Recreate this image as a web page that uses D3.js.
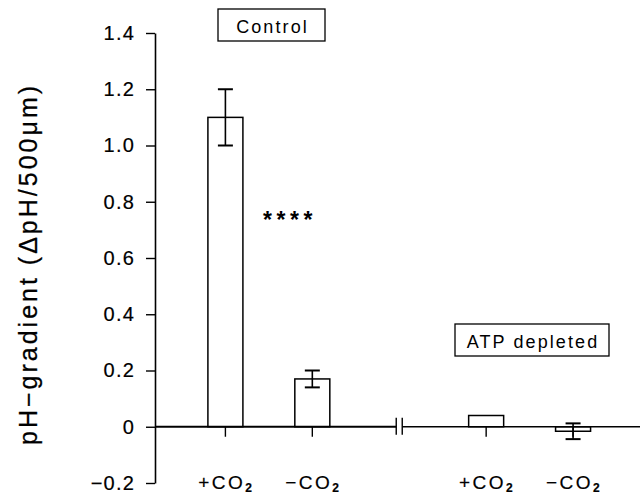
<!DOCTYPE html>
<html>
<head>
<meta charset="utf-8">
<script src="https://cdn.jsdelivr.net/npm/d3@7"></script>
<style>
  html, body { margin: 0; padding: 0; background: #fff; }
  svg { display: block; font-family: "Liberation Sans", Arial, sans-serif; }
</style>
</head>
<body>
<div id="chart"></div>
<script>
// Values (pH units per 500 µm)
const groups = ['Control', 'Control', 'ATP depleted', 'ATP depleted'];
const conditions = ['+CO', '−CO', '+CO', '−CO'];
const positions = [1, 2, 4, 5];        // slot 3 holds the axis break
const means = [1.10, 0.17, 0.04, -0.016];
const errors = [0.10, 0.03, 0, 0.028];
const yTicks = [-0.2, 0, 0.2, 0.4, 0.6, 0.8, 1.0, 1.2, 1.4];

const width = 640, height = 497;

const svg = d3.select('#chart').append('svg')
  .attr('width', width)
  .attr('height', height);

const x = d3.scaleLinear().domain([0.19, 5.77]).range([155, 640]);
const y = d3.scaleLinear().domain([-0.2, 1.4]).range([483, 33]);
const barW = 35, capW = 15;

// y axis
const yAxis = d3.axisLeft(y)
  .tickValues(yTicks)
  .tickSize(9)
  .tickSizeOuter(0)
  .tickPadding(11)
  .tickFormat(d => d === 0 ? '0' : d3.format('.1f')(d).replace('-', '−'));

const yg = svg.append('g')
  .attr('transform', `translate(${x.range()[0]},0)`)
  .call(yAxis);
yg.select('.domain').attr('stroke', '#000').attr('stroke-width', 1.6);
yg.selectAll('.tick line').attr('stroke', '#000').attr('stroke-width', 1.4);
yg.selectAll('.tick text')
  .attr('fill', '#000')
  .attr('font-size', 20)
  .attr('letter-spacing', 1.2)
  .attr('stroke', '#000')
  .attr('stroke-width', 0.2)
  .attr('font-family', '"Liberation Sans", Arial, sans-serif');

svg.append('text')
  .attr('transform', `translate(37,264) rotate(-90)`)
  .attr('text-anchor', 'middle')
  .attr('font-size', 25)
  .attr('letter-spacing', 3)
  .attr('stroke', '#000')
  .attr('stroke-width', 0.25)
  .text('pH−gradient (ΔpH/500μm)');

// bars
const bars = svg.append('g');
positions.forEach((p, i) => {
  const v = means[i];
  bars.append('rect')
    .attr('x', x(p) - barW / 2)
    .attr('y', y(Math.max(0, v)))
    .attr('width', barW)
    .attr('height', Math.abs(y(v) - y(0)))
    .attr('fill', '#fff')
    .attr('stroke', '#000')
    .attr('stroke-width', 1.5);
});

// x ticks (below zero line)
svg.append('g').selectAll('line')
  .data(positions)
  .join('line')
  .attr('x1', d => x(d)).attr('x2', d => x(d))
  .attr('y1', y(0)).attr('y2', y(0) + 10)
  .attr('stroke', '#000')
  .attr('stroke-width', 1.4);

// zero line with break
const brk = x(3);
svg.append('line')
  .attr('x1', x.range()[0]).attr('x2', brk - 3)
  .attr('y1', y(0)).attr('y2', y(0))
  .attr('stroke', '#000').attr('stroke-width', 2);
svg.append('line')
  .attr('x1', brk + 3).attr('x2', x.range()[1])
  .attr('y1', y(0)).attr('y2', y(0))
  .attr('stroke', '#000').attr('stroke-width', 1.7);
[brk - 3, brk + 3].forEach(bx => {
  svg.append('line')
    .attr('x1', bx).attr('x2', bx)
    .attr('y1', y(0) - 9).attr('y2', y(0) + 8)
    .attr('stroke', '#000').attr('stroke-width', 1.4);
});

// error bars
const err = svg.append('g').attr('stroke', '#000').attr('stroke-width', 1.6);
positions.forEach((p, i) => {
  if (!errors[i]) return;
  const lo = means[i] - errors[i], hi = means[i] + errors[i];
  err.append('line').attr('x1', x(p)).attr('x2', x(p)).attr('y1', y(hi)).attr('y2', y(lo));
  [lo, hi].forEach(v => {
    err.append('line')
      .attr('x1', x(p) - capW / 2).attr('x2', x(p) + capW / 2)
      .attr('y1', y(v)).attr('y2', y(v))
      .attr('stroke-width', 2);
  });
});

// category labels with subscript
const lab = svg.append('g').selectAll('text')
  .data(positions)
  .join('text')
  .attr('x', d => x(d) + 1)
  .attr('y', 489)
  .attr('text-anchor', 'middle')
  .attr('font-size', 19)
  .attr('letter-spacing', 2.5)
  .attr('stroke', '#000')
  .attr('stroke-width', 0.2);
lab.append('tspan').text((d, i) => conditions[i]);
lab.append('tspan')
  .attr('font-size', 12)
  .attr('font-weight', 'bold')
  .attr('dy', 3)
  .text('2');

// group boxes
function labelBox(text, x0, x1, y0, y1, baseline) {
  svg.append('rect')
    .attr('x', x0).attr('y', y0)
    .attr('width', x1 - x0).attr('height', y1 - y0)
    .attr('fill', '#fff')
    .attr('stroke', '#000')
    .attr('stroke-width', 1.3);
  svg.append('text')
    .attr('x', (x0 + x1) / 2 + 1)
    .attr('y', baseline)
    .attr('text-anchor', 'middle')
    .attr('font-size', 18)
    .attr('letter-spacing', 2.1)
    .text(text);
}
labelBox(groups[0], 218, 325, 9, 41, 33);
labelBox(groups[2], 455, 609, 324, 356, 348);

// significance marker
svg.append('text')
  .attr('x', 290)
  .attr('y', 228)
  .attr('text-anchor', 'middle')
  .attr('font-size', 23)
  .attr('font-weight', 'bold')
  .attr('letter-spacing', 4.5)
  .text('****');
</script>
</body>
</html>
